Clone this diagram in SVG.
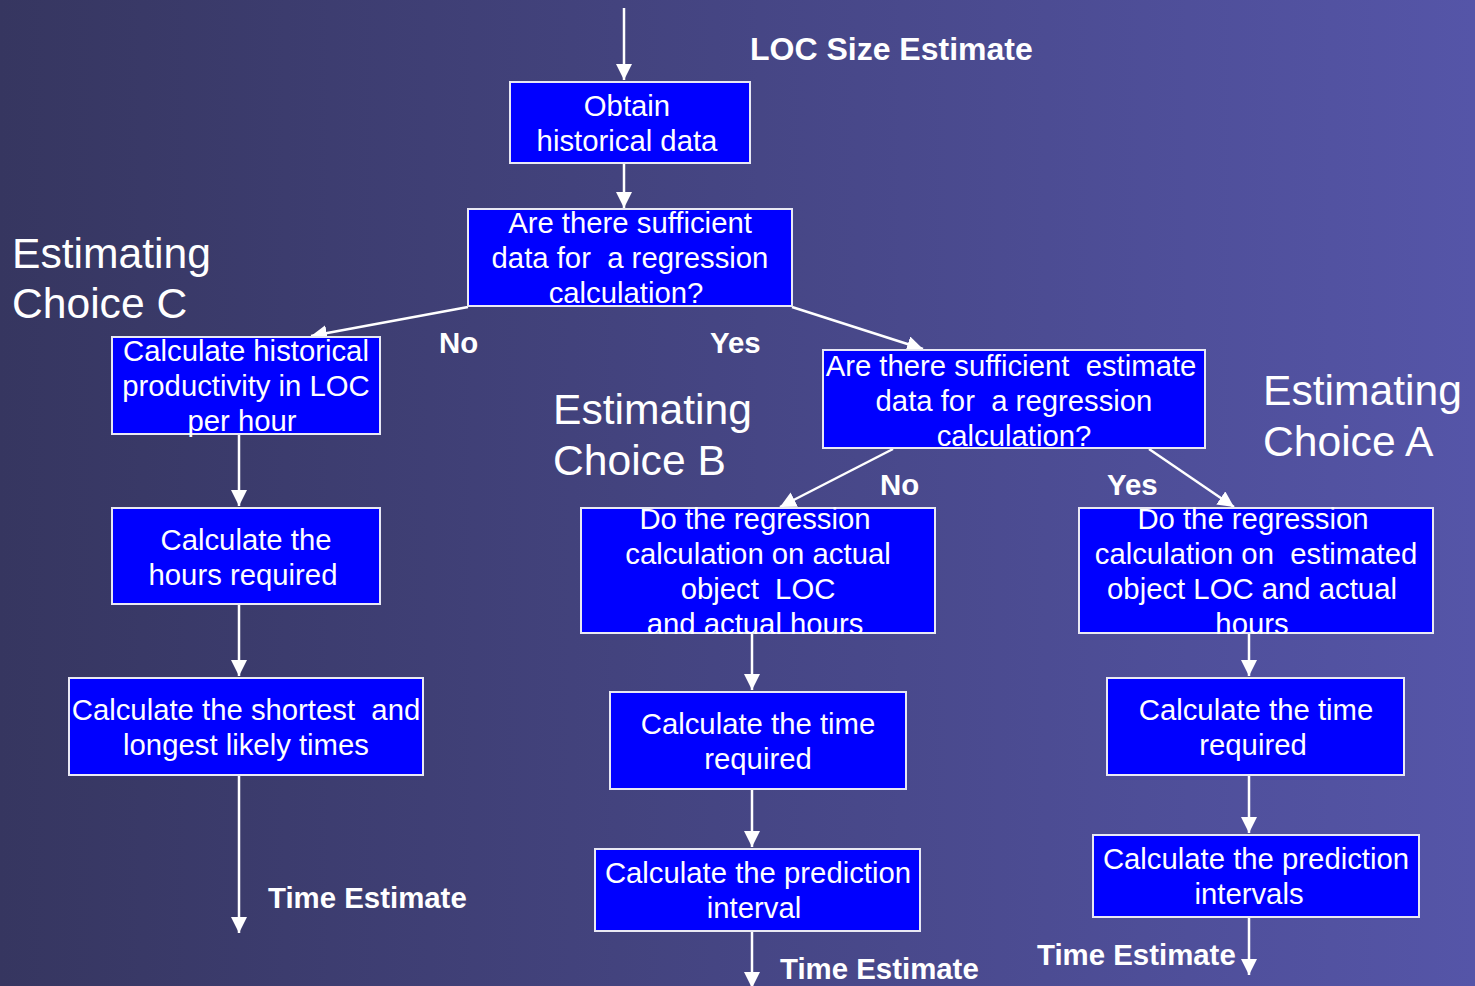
<svg xmlns="http://www.w3.org/2000/svg" width="1475" height="986" viewBox="0 0 1475 986">
<style>
.box{fill:#0000ff;stroke:#e8e8f4;stroke-width:2}
.bt{font-family:"Liberation Sans",Arial,sans-serif;font-size:29.3px;fill:#ffffff;text-anchor:middle;white-space:pre}
.lab{font-family:"Liberation Sans",Arial,sans-serif;font-size:29.4px;font-weight:bold;fill:#ffffff}
.big{font-family:"Liberation Sans",Arial,sans-serif;font-size:42.6px;fill:#ffffff}
.con{stroke:#ffffff;stroke-width:2.5;fill:none;marker-end:url(#ah)}
</style>
<defs>
<linearGradient id="bg" x1="0" y1="0" x2="1" y2="0">
<stop offset="0" stop-color="#363660"/>
<stop offset="1" stop-color="#5555a8"/>
</linearGradient>
<marker id="ah" markerUnits="userSpaceOnUse" markerWidth="18" markerHeight="18" refX="16" refY="8" orient="auto">
<path d="M0,0 L16,8 L0,16 z" fill="#ffffff"/>
</marker>
</defs>
<rect width="1475" height="986" fill="url(#bg)"/>

<g id="connectors">
<line class="con" x1="624" y1="8" x2="624" y2="80"/>
<line class="con" x1="624" y1="163" x2="624" y2="208"/>
<line class="con" x1="468" y1="307" x2="311" y2="336"/>
<line class="con" x1="792" y1="307" x2="923" y2="349"/>
<line class="con" x1="239" y1="434" x2="239" y2="506"/>
<line class="con" x1="239" y1="604" x2="239" y2="676"/>
<line class="con" x1="239" y1="775" x2="239" y2="933"/>
<line class="con" x1="893" y1="449" x2="780" y2="507"/>
<line class="con" x1="1149" y1="449" x2="1234" y2="507"/>
<line class="con" x1="752" y1="633" x2="752" y2="690"/>
<line class="con" x1="752" y1="789" x2="752" y2="847"/>
<line class="con" x1="752" y1="931" x2="752" y2="988"/>
<line class="con" x1="1249" y1="633" x2="1249" y2="676"/>
<line class="con" x1="1249" y1="775" x2="1249" y2="833"/>
<line class="con" x1="1249" y1="917" x2="1249" y2="975"/>
</g>

<g id="n1"><rect class="box" x="510" y="82" width="240" height="81"/>
<text class="bt" x="627" y="116">Obtain</text><text class="bt" x="627" y="151">historical data</text></g>

<g id="n2"><rect class="box" x="468" y="209" width="324" height="97"/>
<text class="bt" x="630" y="233">Are there sufficient</text><text class="bt" x="630" y="268">data for  a regression</text><text class="bt" x="626" y="303">calculation?</text></g>

<g id="n3"><rect class="box" x="112" y="337" width="268" height="97"/>
<text class="bt" x="246" y="361">Calculate historical</text><text class="bt" x="246" y="396">productivity in LOC</text><text class="bt" x="242" y="431">per hour</text></g>

<g id="n4"><rect class="box" x="112" y="508" width="268" height="96"/>
<text class="bt" x="246" y="550">Calculate the</text><text class="bt" x="243" y="585">hours required</text></g>

<g id="n5"><rect class="box" x="69" y="678" width="354" height="97"/>
<text class="bt" x="246" y="720">Calculate the shortest  and</text><text class="bt" x="246" y="755">longest likely times</text></g>

<g id="n6"><rect class="box" x="823" y="350" width="382" height="98"/>
<text class="bt" x="1011" y="376">Are there sufficient  estimate</text><text class="bt" x="1014" y="411">data for  a regression</text><text class="bt" x="1014" y="446">calculation?</text></g>

<g id="n7"><rect class="box" x="581" y="508" width="354" height="125"/>
<text class="bt" x="755" y="529">Do the regression</text><text class="bt" x="758" y="564">calculation on actual</text><text class="bt" x="758" y="599">object  LOC</text><text class="bt" x="755" y="634">and actual hours</text></g>

<g id="n8"><rect class="box" x="610" y="692" width="296" height="97"/>
<text class="bt" x="758" y="734">Calculate the time</text><text class="bt" x="758" y="769">required</text></g>

<g id="n9"><rect class="box" x="595" y="849" width="325" height="82"/>
<text class="bt" x="758" y="883">Calculate the prediction</text><text class="bt" x="754" y="918">interval</text></g>

<g id="n10"><rect class="box" x="1079" y="508" width="354" height="125"/>
<text class="bt" x="1253" y="529">Do the regression</text><text class="bt" x="1256" y="564">calculation on  estimated</text><text class="bt" x="1252" y="599">object LOC and actual</text><text class="bt" x="1252" y="634">hours</text></g>

<g id="n11"><rect class="box" x="1107" y="678" width="297" height="97"/>
<text class="bt" x="1256" y="720">Calculate the time</text><text class="bt" x="1253" y="755">required</text></g>

<g id="n12"><rect class="box" x="1093" y="835" width="326" height="82"/>
<text class="bt" x="1256" y="869">Calculate the prediction</text><text class="bt" x="1249" y="904">intervals</text></g>

<g id="labels">
<text class="lab" x="750" y="60" style="font-size:32px">LOC Size Estimate</text>
<text class="big" x="12" y="268">Estimating</text><text class="big" x="12" y="318">Choice C</text>
<text class="big" x="553" y="424">Estimating</text><text class="big" x="553" y="475">Choice B</text>
<text class="big" x="1263" y="405">Estimating</text><text class="big" x="1263" y="456">Choice A</text>
<text class="lab" x="439" y="353">No</text>
<text class="lab" x="710" y="353">Yes</text>
<text class="lab" x="880" y="495">No</text>
<text class="lab" x="1107" y="495">Yes</text>
<text class="lab" x="268" y="908">Time Estimate</text>
<text class="lab" x="780" y="979">Time Estimate</text>
<text class="lab" x="1037" y="965">Time Estimate</text>
</g>
</svg>
